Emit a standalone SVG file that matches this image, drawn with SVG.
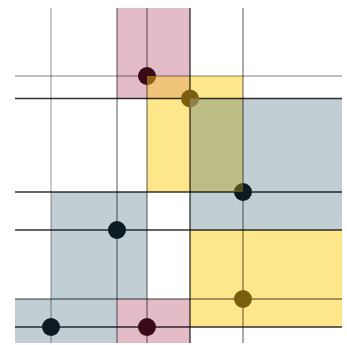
<svg xmlns="http://www.w3.org/2000/svg" width="347" height="345" viewBox="0 0 347 345">
<style>
.pink{fill:#e3bcc8}
.gray{fill:#c1ced4}
.yel{fill:#fee68b}
.org{fill:#f0c47a}
.olv{fill:#bfbd86}
.ln{stroke:#000;stroke-width:1.3;fill:none}
.lt{stroke-opacity:0.33}
.md{stroke-opacity:0.5}
.dk{stroke-opacity:0.8}
.pm{fill:#3a0a18}
.pn{fill:#0c1a21}
.po{fill:#7a5e0e}
</style>
<rect width="347" height="345" fill="#ffffff"/>
<g id="regions">
<rect id="r-pink-top" class="pink" x="117" y="8" width="73" height="90.5"/>
<rect id="r-pink-bottom" class="pink" x="117" y="299" width="73" height="44"/>
<rect id="r-gray-right" class="gray" x="190" y="98.5" width="152" height="131.5"/>
<rect id="r-gray-left" class="gray" x="51" y="192" width="96" height="107"/>
<rect id="r-gray-bottom" class="gray" x="15" y="299" width="102" height="44"/>
<rect id="r-yellow-top" class="yel" x="147" y="76" width="96" height="116"/>
<rect id="r-yellow-bottom" class="yel" x="190" y="230" width="152" height="97"/>
<rect class="org" x="147" y="76" width="43" height="22.5"/>
<rect class="olv" x="190" y="98.5" width="53" height="93.5"/>
</g>
<g id="connectors">
<line class="ln lt" x1="51" y1="8" x2="51" y2="343"/>
<line class="ln md" x1="117" y1="8" x2="117" y2="343"/>
<line class="ln md" x1="147" y1="8" x2="147" y2="343"/>
<line class="ln dk" x1="190" y1="8" x2="190" y2="343"/>
<line class="ln md" x1="243" y1="8" x2="243" y2="343"/>
<line class="ln lt" x1="15" y1="76" x2="342" y2="76"/>
<line class="ln dk" x1="15" y1="98.5" x2="342" y2="98.5"/>
<line class="ln dk" x1="15" y1="192" x2="342" y2="192"/>
<line class="ln dk" x1="15" y1="230" x2="342" y2="230"/>
<line class="ln md" x1="15" y1="299" x2="342" y2="299"/>
<line class="ln dk" x1="15" y1="327" x2="342" y2="327"/>
</g>
<g id="p1"><circle class="pm" cx="147" cy="76" r="9"/><path d="M147,76 h9 a9,9 0 0 1 -9,9 z" fill="#fdcd17" fill-opacity="0.45"/></g>
<g id="p2"><circle class="po" cx="190" cy="98.5" r="9"/><path d="M190,98.5 h9 a9,9 0 0 1 -9,9 z" fill="#c1ced4" fill-opacity="0.3"/></g>
<g id="p3"><circle class="pn" cx="243" cy="192" r="9"/><path d="M243,192 h-9 a9,9 0 0 1 9,-9 z" fill="#fdcd17" fill-opacity="0.3"/></g>
<g id="p4"><circle class="pn" cx="117" cy="230" r="9"/></g>
<g id="p5"><circle class="pn" cx="51" cy="327" r="9"/></g>
<g id="p6"><circle class="pm" cx="147" cy="327" r="9"/></g>
<g id="p7"><circle class="po" cx="243" cy="299" r="9"/></g>
</svg>
